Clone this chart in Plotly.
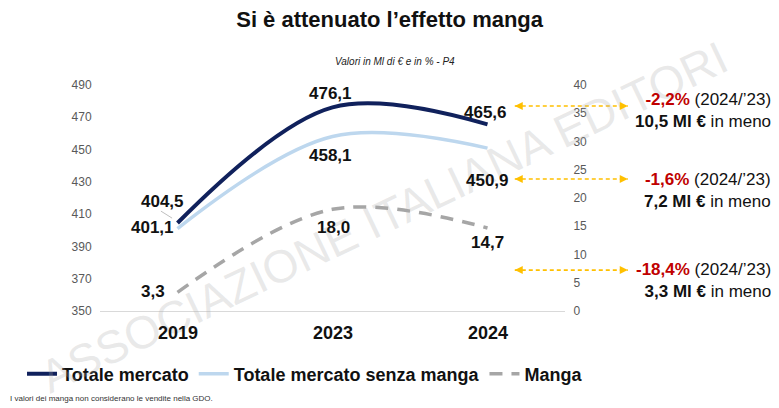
import plotly.graph_objects as go

# ---- data ----
years = ["2019", "2023", "2024"]
totale_mercato = [404.5, 476.1, 465.6]
totale_senza_manga = [401.1, 458.1, 450.9]
manga = [3.3, 18.0, 14.7]
left_ticks = [350, 370, 390, 410, 430, 450, 470, 490]
right_ticks = [0, 5, 10, 15, 20, 25, 30, 35, 40]
var_pct = ["-2,2%", "-1,6%", "-18,4%"]
var_abs = ["10,5", "7,2", "3,3"]

FONT = "Arial, Liberation Sans, sans-serif"
NAVY = "#10215c"
LBLUE = "#bdd7ee"
GREY = "#a6a6a6"
RED = "#c00000"
ORANGE = "#ffc000"

def fmt(v):
    return f"{v:.1f}".replace(".", ",")

fig = go.Figure()
fig.add_trace(go.Scatter(x=years, y=totale_mercato, name="Totale mercato", mode="lines",
                         line=dict(color=NAVY, width=4, shape="spline", smoothing=1.0)))
fig.add_trace(go.Scatter(x=years, y=totale_senza_manga, name="Totale mercato senza manga", mode="lines",
                         line=dict(color=LBLUE, width=3.5, shape="spline", smoothing=1.0)))
fig.add_trace(go.Scatter(x=years, y=manga, name="Manga", mode="lines", yaxis="y2",
                         line=dict(color=GREY, width=3.5, shape="spline", smoothing=1.0, dash="13px,9px")))

ann = []
# watermark (first, so labels sit above it)
ann.append(dict(x=0.61, y=0.418, xref="paper", yref="paper", showarrow=False,
                xanchor="center", yanchor="middle",
                text="ASSOCIAZIONE ITALIANA EDITORI", textangle=-25.5,
                font=dict(size=46, color="rgba(170,170,170,0.26)", family=FONT)))

# data labels (offsets in pixels)
off_tot = [(-15, 22), (-2, 14), (-2, 12)]
off_senza = [(-25, 1), (-2, -19), (0, -32)]
off_manga = [(-25, 1), (1, -18), (0, -15)]
lab_font = dict(size=17, color="#111111", family=FONT)
for i in range(len(years)):
    ann.append(dict(x=i, y=totale_mercato[i], xref="x", yref="y", text="<b>" + fmt(totale_mercato[i]) + "</b>",
                    showarrow=False, xshift=off_tot[i][0], yshift=off_tot[i][1], font=lab_font))
    ann.append(dict(x=i, y=totale_senza_manga[i], xref="x", yref="y", text="<b>" + fmt(totale_senza_manga[i]) + "</b>",
                    showarrow=False, xshift=off_senza[i][0], yshift=off_senza[i][1], font=lab_font))
    ann.append(dict(x=i, y=manga[i], xref="x", yref="y2", text="<b>" + fmt(manga[i]) + "</b>",
                    showarrow=False, xshift=off_manga[i][0], yshift=off_manga[i][1], font=lab_font))
    # category labels under the axis
    ann.append(dict(x=i, y=0, xref="x", yref="paper", yanchor="middle", yshift=-22,
                    text="<b>" + years[i] + "</b>", showarrow=False,
                    font=dict(size=18, color="#111111", family=FONT)))

# subtitle
ann.append(dict(x=0.634, y=1.102, xref="paper", yref="paper", showarrow=False,
                xanchor="center", yanchor="middle",
                text="<i>Valori in Ml di € e in % - P4</i>",
                font=dict(size=10, color="#222222", family=FONT)))

# right notes
note_y = [0.889, 0.535, 0.137]
for k in range(3):
    ann.append(dict(x=1.4473, y=note_y[k], xref="paper", yref="paper", showarrow=False,
                    xanchor="right", yanchor="middle", align="right",
                    text=(f"<span style='color:{RED}'><b>{var_pct[k]}</b></span> (2024/’23)<br>"
                          f"<b>{var_abs[k]} Ml €</b> in meno"),
                    font=dict(size=17, color="#111111", family=FONT)))

# arrows
arrow_y = [0.907, 0.584, 0.181]
x0p, x1p = 0.892, 1.135
shapes = []
for ay in arrow_y:
    shapes.append(dict(type="line", xref="paper", yref="paper", x0=x0p, x1=x1p, y0=ay, y1=ay,
                       line=dict(color=ORANGE, width=1.6, dash="4px,3px")))
    ann.append(dict(x=x1p, y=ay, xref="paper", yref="paper", text="", showarrow=True,
                    ax=-7, ay=0, arrowhead=2, arrowsize=1, arrowwidth=1.6, arrowcolor=ORANGE))
    ann.append(dict(x=x0p, y=ay, xref="paper", yref="paper", text="", showarrow=True,
                    ax=7, ay=0, arrowhead=2, arrowsize=1, arrowwidth=1.6, arrowcolor=ORANGE))

# leader line for 404,5
shapes.append(dict(type="line", xref="paper", yref="paper", x0=0.131, x1=0.155, y0=0.442, y1=0.411,
                   line=dict(color="#bfbfbf", width=1)))

# footnote
ann.append(dict(x=-92 / 465, y=-0.385, xref="paper", yref="paper", showarrow=False,
                xanchor="left", yanchor="middle",
                text="I valori dei manga non considerano le vendite nella GDO.",
                font=dict(size=8, color="#333333", family=FONT)))

fig.update_layout(
    width=771, height=400,
    margin=dict(l=92, r=214, t=77, b=97),
    paper_bgcolor="white", plot_bgcolor="white",
    title=dict(text="<b>Si è attenuato l’effetto manga</b>", x=0.495, xanchor="center",
               y=1 - 11 / 400, yanchor="middle", yref="container",
               font=dict(size=22, color="#111111", family=FONT)),
    xaxis=dict(type="category", range=[-0.5, 2.5], showgrid=False, zeroline=False,
               showline=True, linecolor="#d9d9d9", linewidth=1, showticklabels=False,
               automargin=False),
    yaxis=dict(range=[350, 490], tickvals=left_ticks, showgrid=False, zeroline=False,
               showline=False, ticks="outside", ticklen=5, tickcolor="rgba(0,0,0,0)",
               automargin=False,
               tickfont=dict(size=12, color="#595959", family=FONT)),
    yaxis2=dict(range=[0, 40], tickvals=right_ticks, overlaying="y", side="right",
                showgrid=False, zeroline=False, showline=False, automargin=False,
                ticks="outside", ticklen=5, tickcolor="rgba(0,0,0,0)",
                tickfont=dict(size=12, color="#595959", family=FONT)),
    legend=dict(orientation="h", x=1.0495, y=-0.279, xanchor="right", yanchor="middle",
                itemwidth=30, font=dict(size=18, color="#111111", family=FONT, weight="bold"),
                bgcolor="rgba(0,0,0,0)"),
    annotations=ann, shapes=shapes,
)

fig.write_html("out.html")
